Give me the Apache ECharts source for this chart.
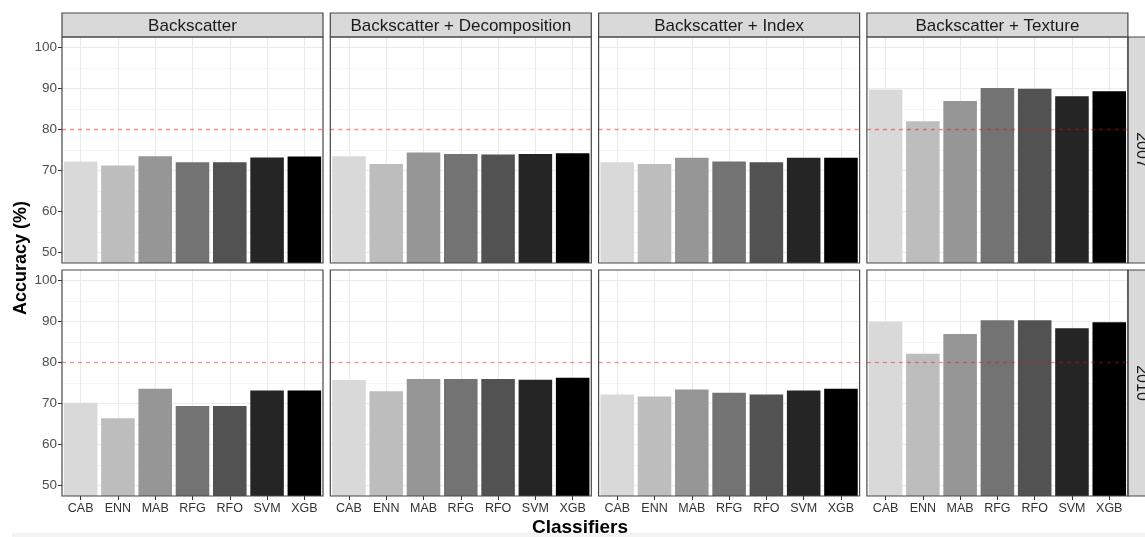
<!DOCTYPE html>
<html><head><meta charset="utf-8">
<script src="https://cdn.jsdelivr.net/npm/echarts@6/dist/echarts.min.js"></script>
<style>html,body{margin:0;padding:0;background:#fff}#c{width:1145px;height:537px}</style>
</head><body><div id="c"></div>
<script>
// ---- data ----
const classifiers = ['CAB','ENN','MAB','RFG','RFO','SVM','XGB'];
const featureSets = ['Backscatter','Backscatter + Decomposition','Backscatter + Index','Backscatter + Texture'];
const years = ['2007','2010'];
const acc2007_backscatter    = [72.2, 71.2, 73.5, 72.0, 72.0, 73.2, 73.4];
const acc2007_decomposition  = [73.5, 71.6, 74.4, 74.0, 73.9, 74.0, 74.2];
const acc2007_index          = [72.0, 71.6, 73.1, 72.2, 72.0, 73.1, 73.1];
const acc2007_texture        = [89.7, 82.0, 86.9, 90.1, 89.9, 88.1, 89.3];
const acc2010_backscatter    = [70.2, 66.4, 73.6, 69.4, 69.4, 73.2, 73.2];
const acc2010_decomposition  = [75.7, 73.0, 76.0, 76.0, 76.0, 75.8, 76.3];
const acc2010_index          = [72.2, 71.7, 73.4, 72.6, 72.2, 73.2, 73.6];
const acc2010_texture        = [89.9, 82.1, 86.9, 90.3, 90.3, 88.3, 89.8];
const yTicks = [50, 60, 70, 80, 90, 100];
const yMinor = [55, 65, 75, 85, 95];
const refLine = 80;

const panelData = [
  [acc2007_backscatter, acc2007_decomposition, acc2007_index, acc2007_texture],
  [acc2010_backscatter, acc2010_decomposition, acc2010_index, acc2010_texture]
];

// ---- style / layout ----
const barColors = ['#d9d9d9','#bdbdbd','#969696','#737373','#525252','#252525','#000000'];
const FONT = 'Liberation Sans, Arial, sans-serif';
const Y_MIN = 47.5, Y_MAX = 102.5;
const P_LEFT = 62, P_STEP = 268.3, P_W = 261, P_H = 226;
const ROW_TOP = [37, 270];
const STRIP_TOP = 13, STRIP_H = 24;
const RSTRIP_X = 1128, RSTRIP_W = 26;

const grids = [], xAxes = [], yAxes = [], series = [], graphics = [];

for (let r = 0; r < 2; r++) {
  for (let c = 0; c < 4; c++) {
    const idx = r * 4 + c;
    const left = P_LEFT + c * P_STEP, top = ROW_TOP[r];
    grids.push({left: left, top: top, width: P_W, height: P_H, containLabel: false});
    xAxes.push({
      type: 'category', gridIndex: idx, data: classifiers, boundaryGap: true,
      axisLine: {show: false},
      axisTick: {show: r === 1, alignWithLabel: true, length: 4, lineStyle: {color: '#333', width: 1}},
      axisLabel: {show: r === 1, fontSize: 12.5, color: '#333', margin: 6, fontFamily: FONT},
      splitLine: {show: false}
    });
    yAxes.push({
      type: 'value', gridIndex: idx, min: Y_MIN, max: Y_MAX,
      axisLine: {show: false},
      axisTick: {show: c === 0, length: 4, lineStyle: {color: '#333', width: 1}, customValues: yTicks},
      axisLabel: {show: c === 0, fontSize: 13.5, color: '#4d4d4d', margin: 5, fontFamily: FONT, customValues: yTicks,
                  formatter: v => (yTicks.indexOf(v) >= 0 ? String(v) : '')},
      splitLine: {show: false}, minorSplitLine: {show: false}
    });
    // background grid lines (the reference line replaces the 80 grid line)
    const gl = [];
    yTicks.filter(v => v !== refLine).forEach(v => gl.push({yAxis: v, lineStyle: {color: '#ebebeb', width: 1.1, type: 'solid'}}));
    yMinor.forEach(v => gl.push({yAxis: v, lineStyle: {color: '#f1f1f1', width: 0.7, type: 'solid'}}));
    classifiers.forEach(k => gl.push({xAxis: k, lineStyle: {color: '#ebebeb', width: 1.1, type: 'solid'}}));
    series.push({
      type: 'line', xAxisIndex: idx, yAxisIndex: idx, data: [], silent: true, z: 1,
      markLine: {silent: true, symbol: 'none', z: 1, animation: false, label: {show: false},
                 lineStyle: {type: 'solid', color: '#ebebeb'}, data: gl}
    });
    series.push({
      type: 'bar', xAxisIndex: idx, yAxisIndex: idx, barCategoryGap: '10%', z: 2,
      name: featureSets[c] + ' ' + years[r],
      data: panelData[r][c].map((v, i) => ({value: v, itemStyle: {color: barColors[i]}}))
    });
    series.push({
      type: 'line', xAxisIndex: idx, yAxisIndex: idx, data: [], silent: true, z: 3,
      markLine: {silent: true, symbol: 'none', z: 6, animation: false, label: {show: false},
                 lineStyle: {color: 'rgba(255,0,0,0.45)', type: [4, 4], width: 1.3},
                 data: [{yAxis: refLine, lineStyle: {color: 'rgba(255,0,0,0.45)', type: [4, 4], width: 1.3}}]}
    });
    // panel border
    graphics.push({type: 'rect', z: 100, silent: true,
      shape: {x: left, y: top, width: P_W, height: P_H},
      style: {fill: 'none', stroke: '#484848', lineWidth: 1.2}});
    if (r === 0) {
      graphics.push({type: 'rect', z: 90, silent: true,
        shape: {x: left, y: STRIP_TOP, width: P_W, height: STRIP_H},
        style: {fill: '#d9d9d9', stroke: '#484848', lineWidth: 1.2}});
      graphics.push({type: 'text', z: 101, silent: true, x: left + P_W / 2, y: STRIP_TOP + STRIP_H / 2 + 1,
        style: {text: featureSets[c], fontSize: 17, fontFamily: FONT, fill: '#1a1a1a', align: 'center', verticalAlign: 'middle'}});
    }
  }
  // right strip
  graphics.push({type: 'rect', z: 90, silent: true,
    shape: {x: RSTRIP_X, y: ROW_TOP[r], width: RSTRIP_W, height: P_H},
    style: {fill: '#d9d9d9', stroke: '#484848', lineWidth: 1.2}});
  graphics.push({type: 'text', z: 101, silent: true, x: RSTRIP_X + 13, y: ROW_TOP[r] + P_H / 2, rotation: -Math.PI / 2,
    style: {text: years[r], fontSize: 16, fontFamily: FONT, fill: '#1a1a1a', align: 'center', verticalAlign: 'middle'}});
}
// axis titles
graphics.push({type: 'text', silent: true, x: 21, y: 258, rotation: Math.PI / 2,
  style: {text: 'Accuracy (%)', fontSize: 18, fontWeight: 'bold', fontFamily: FONT, fill: '#000', align: 'center', verticalAlign: 'middle'}});
graphics.push({type: 'text', silent: true, x: 580, y: 528,
  style: {text: 'Classifiers', fontSize: 19, fontWeight: 'bold', fontFamily: FONT, fill: '#000', align: 'center', verticalAlign: 'middle'}});
// light band at bottom
graphics.push({type: 'rect', z: -1, silent: true, shape: {x: 12, y: 533, width: 1133, height: 4}, style: {fill: '#f3f3f3'}});

const chart = echarts.init(document.getElementById('c'), null, {renderer: 'canvas'});
chart.setOption({
  animation: false,
  backgroundColor: '#ffffff',
  grid: grids, xAxis: xAxes, yAxis: yAxes, series: series, graphic: graphics
});
</script></body></html>
